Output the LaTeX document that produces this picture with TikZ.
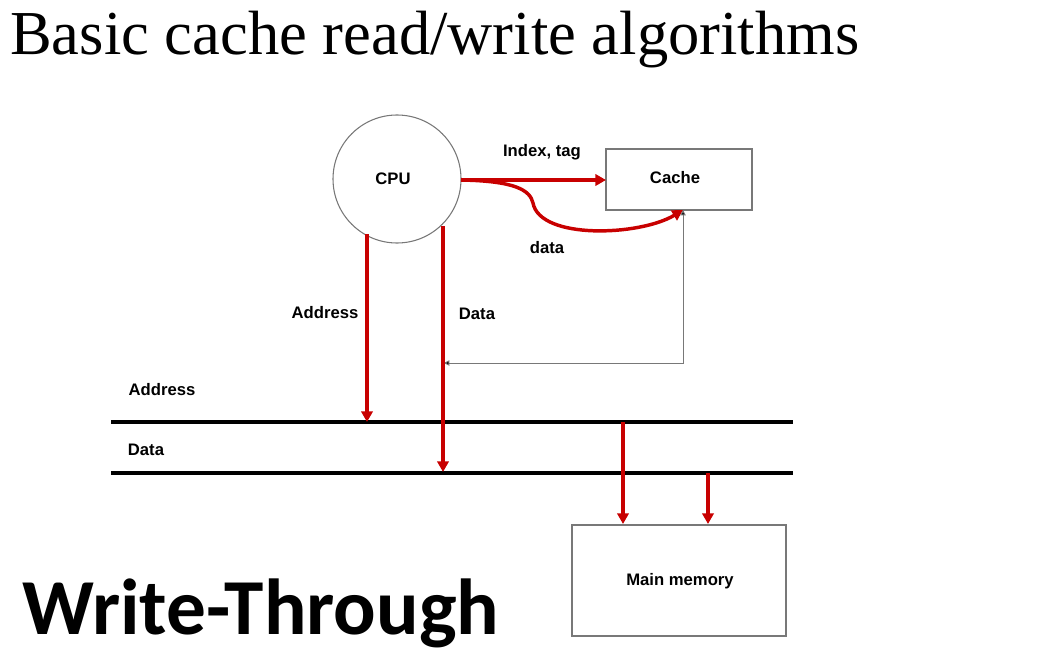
\documentclass[tikz,border=0pt]{standalone}
\usepackage{fontspec}
\setmainfont{Liberation Sans}
\newfontfamily\titlefont{Liberation Serif}
\newfontfamily\wtfont{Carlito}
\usetikzlibrary{arrows.meta}
\definecolor{myred}{RGB}{200,0,0}
\definecolor{mygray}{RGB}{120,120,120}
\begin{document}
\begin{tikzpicture}[x=0.75pt,y=-0.75pt,
  lbl/.style={inner sep=0pt,font=\fontsize{12.5}{14}\selectfont\bfseries},
  box/.style={draw=mygray,line width=0.8pt,inner sep=0pt},
  redarrow/.style={draw=myred,line width=2.6pt,-{Triangle[length=8pt,width=8.5pt]}},
  bus/.style={draw=black,line width=2.6pt},
  thin/.style={draw=mygray,line width=0.7pt}]
\useasboundingbox (0,0) rectangle (1062,667);
% title
\node[anchor=base west,inner sep=0pt,font=\titlefont\fontsize{46.9}{52}\selectfont] (title) at (10,55) {Basic cache read/write algorithms};
\node[anchor=base west,inner sep=0pt,font=\wtfont\bfseries\fontsize{59.5}{66}\selectfont] (wt) at (22,634) {Write-Through};
% CPU
\node[box,circle,minimum size=96pt,draw=mygray] (cpu) at (397,179) {};
\node[lbl] (cputxt) at (393,179) {CPU};
% Cache
\node[box,minimum width=109.5pt,minimum height=45.75pt] (cache) at (679,179.5) {};
\node[lbl] (cachetxt) at (675,178) {Cache};
% Main memory
\node[box,minimum width=160.5pt,minimum height=83.25pt] (mem) at (679,580.5) {};
\node[lbl] (memtxt) at (680,581) {Main memory};
% coordinates
\coordinate (cpuE) at (461,180);
\coordinate (cacheW) at (606,180);
\coordinate (cacheB) at (683,210);
\coordinate (corner) at (683,363);
\coordinate (dataJ) at (444,363);
\coordinate (addrTop) at (367,234);
\coordinate (addrBot) at (367,422);
\coordinate (dataTop) at (443,226);
\coordinate (dataBot) at (443,472);
\coordinate (busAL) at (111,422);
\coordinate (busAR) at (793,422);
\coordinate (busDL) at (111,473);
\coordinate (busDR) at (793,473);
\coordinate (m1top) at (623,422);
\coordinate (m1bot) at (623,524);
\coordinate (m2top) at (708,473);
\coordinate (m2bot) at (708,524);
% buses
\draw[bus] (busAL) -- (busAR);
\draw[bus] (busDL) -- (busDR);
% CPU to cache
\draw[redarrow] (cpuE) -- (cacheW);
\draw[redarrow] (cpuE) .. controls (515,181) and (530,190) .. (533,203)
  .. controls (540,240) and (640,236) .. (cacheB);
% cache feedback
\draw[thin,{Triangle[length=4pt,width=4pt,fill=black]}-{Triangle[length=4pt,width=4pt,fill=black]}] (cacheB) -- (corner) -- (dataJ);
% CPU down
\draw[redarrow] (addrTop) -- (addrBot);
\draw[redarrow] (dataTop) -- (dataBot);
% to memory
\draw[redarrow] (m1top) -- (m1bot);
\draw[redarrow] (m2top) -- (m2bot);
% labels
\node[lbl] (l1) at (542,152) {Index, tag};
\node[lbl] (l2) at (547,248) {data};
\node[lbl] (l3) at (325,313) {Address};
\node[lbl] (l4) at (477,314) {Data};
\node[lbl] (l5) at (162,390) {Address};
\node[lbl] (l6) at (146,450) {Data};
\end{tikzpicture}
\end{document}
